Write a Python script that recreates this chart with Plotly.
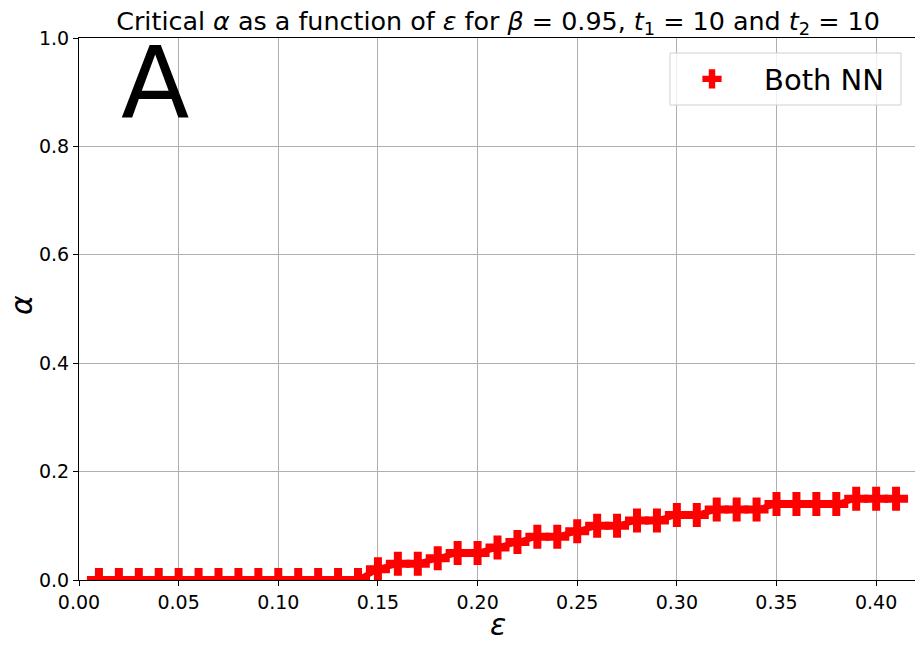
import plotly.graph_objects as go

epsilon = [0.01, 0.02, 0.03, 0.04, 0.05, 0.06, 0.07, 0.08, 0.09, 0.10,
           0.11, 0.12, 0.13, 0.14, 0.15, 0.16, 0.17, 0.18, 0.19, 0.20,
           0.21, 0.22, 0.23, 0.24, 0.25, 0.26, 0.27, 0.28, 0.29, 0.30,
           0.31, 0.32, 0.33, 0.34, 0.35, 0.36, 0.37, 0.38, 0.39, 0.40, 0.41]
alpha = [0, 0, 0, 0, 0, 0, 0, 0, 0, 0,
         0, 0, 0, 0, 0.02, 0.03, 0.03, 0.04, 0.05, 0.05,
         0.06, 0.07, 0.08, 0.08, 0.09, 0.10, 0.10, 0.11, 0.11, 0.12,
         0.12, 0.13, 0.13, 0.13, 0.14, 0.14, 0.14, 0.14, 0.15, 0.15, 0.15]
x_ticks = [0.00, 0.05, 0.10, 0.15, 0.20, 0.25, 0.30, 0.35, 0.40]
y_ticks = [0.0, 0.2, 0.4, 0.6, 0.8, 1.0]

FONT = "DejaVu Sans"
OFF = 8  # page body margin
W, H = 923 - OFF, 647 - OFF
# plot area in screen pixels
SL, SR, ST, SB = 79, 917, 38, 580
L, R, T, B = SL - OFF, SR - OFF, ST - OFF, SB - OFF
PW, PH = R - L, B - T

def px_x(p):  # screen pixel -> paper x
    return (p - OFF - L) / PW

def px_y(p):  # screen pixel -> paper y
    return 1 - (p - OFF - T) / PH

fig = go.Figure()
fig.add_trace(go.Scatter(
    x=epsilon, y=alpha, mode="lines", showlegend=False,
    line=dict(color="#ff0000", width=6), hoverinfo="skip",
))
fig.add_trace(go.Scatter(
    x=epsilon, y=alpha, mode="markers", name="Both NN",
    marker=dict(symbol="cross", size=20, color="#ff0000", line=dict(width=0)),
))

axis_common = dict(
    showline=True, linecolor="black", linewidth=1.2, mirror=True,
    ticks="outside", ticklen=5, tickcolor="black",
    showgrid=True, gridcolor="#b0b0b0", gridwidth=1,
    zeroline=False, tickfont=dict(family=FONT, size=19, color="black"),
    automargin=False,
)
fig.update_xaxes(range=[0, 0.4205], tickvals=x_ticks,
                 ticktext=[f"{v:.2f}" for v in x_ticks], **axis_common)
fig.update_yaxes(range=[0, 1.0], tickvals=y_ticks,
                 ticktext=[f"{v:.1f}" for v in y_ticks], **axis_common)

fig.update_layout(
    width=W, height=H,
    margin=dict(l=L, r=W - R, t=T, b=H - B, autoexpand=False),
    paper_bgcolor="white", plot_bgcolor="white",
    font=dict(family=FONT, color="black"),
    title=dict(
        text="Critical <i>α</i> as a function of <i>ε</i> for <i>β</i> = 0.95, <i>t</i><sub>1</sub> = 10 and <i>t</i><sub>2</sub> = 10",
        x=(L + R) / 2 / W, xanchor="center", y=1 - (21 - OFF) / H, yanchor="middle",
        font=dict(family=FONT, size=25.4, color="black"), automargin=False),
    legend=dict(x=px_x(660), xanchor="left", y=px_y(79), yanchor="middle",
                bgcolor="rgba(0,0,0,0)", borderwidth=0, itemwidth=94,
                font=dict(family=FONT, size=29, color="black")),
    showlegend=True,
    shapes=[dict(type="rect", xref="paper", yref="paper",
                 x0=px_x(670), x1=px_x(901), y0=px_y(105), y1=px_y(53),
                 line=dict(color="#d0d0d0", width=1), fillcolor="rgba(255,255,255,0.8)",
                 layer="above")],
    annotations=[
        dict(text="A", xref="paper", yref="paper",
             x=px_x(155), y=px_y(83), xanchor="center", yanchor="middle", showarrow=False,
             font=dict(family=FONT, size=100, color="black")),
        dict(text="<i>ε</i>", xref="paper", yref="paper",
             x=px_x(498), y=px_y(624), xanchor="center", yanchor="middle", showarrow=False,
             font=dict(family=FONT, size=30, color="black")),
        dict(text="<i>α</i>", xref="paper", yref="paper",
             x=px_x(21), y=px_y(305), xanchor="center", yanchor="middle", showarrow=False,
             textangle=-90, font=dict(family=FONT, size=30, color="black")),
    ],
)

fig.write_html("out.html")
